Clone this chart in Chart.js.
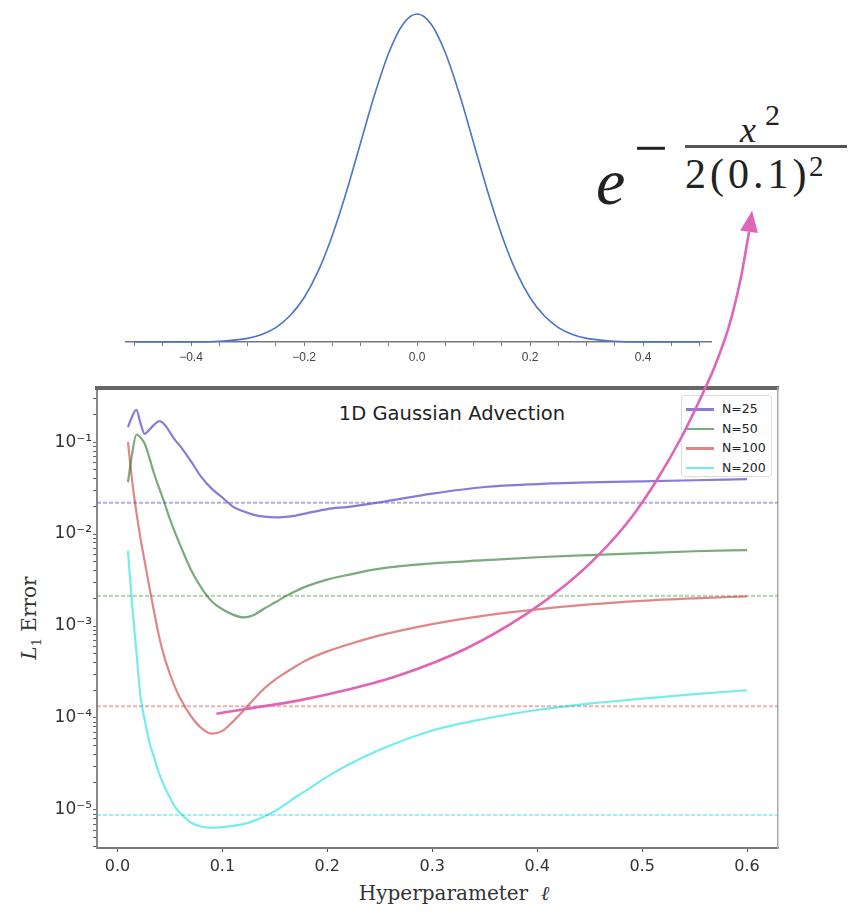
<!DOCTYPE html>
<html><head><meta charset="utf-8">
<script src="https://cdn.jsdelivr.net/npm/chart.js@4.4.1/dist/chart.umd.min.js"></script>
<style>
html,body{margin:0;padding:0;background:#fff;}
#wrap{position:relative;width:867px;height:914px;overflow:hidden;background:#fff;}
canvas{position:absolute;left:0;top:0;}
#top{z-index:1}
#legend{z-index:2}
#main{z-index:3}
.t{position:absolute;white-space:nowrap;line-height:1;color:#222;}
.f{font-family:"Liberation Serif","DejaVu Serif",serif;}
#legend{position:absolute;left:681px;top:395px;width:91px;height:82px;box-sizing:border-box;border:1px solid #ddd;border-radius:3px;background:#fff;}
.li{position:absolute;left:0;width:100%;height:19px;}
.ls{position:absolute;left:4px;top:9px;width:28px;height:2.5px;}
.lt{position:absolute;left:40px;top:2px;font:12.5px "DejaVu Sans",sans-serif;color:#222;}
</style></head><body>
<div id="wrap">
<canvas id="top" width="867" height="380"></canvas>
<div id="legend"></div>
<canvas id="main" width="867" height="914"></canvas>

<div class="t f" style="left:596px;top:149px;font-size:66px;font-style:italic;">e</div>
<div class="t f" style="left:634px;top:118px;font-size:60px;">−</div>
<div style="position:absolute;left:685px;top:145px;width:162px;height:3px;background:#555;"></div>
<div class="t f" style="left:740px;top:112px;font-size:36px;font-style:italic;">x</div>
<div class="t f" style="left:765px;top:100px;font-size:30px;">2</div>
<div class="t f" style="left:685px;top:153px;font-size:42px;letter-spacing:4px;">2(0.1)</div>
<div class="t f" style="left:809px;top:152px;font-size:29px;">2</div>

<div class="t" style="left:452px;top:402px;transform:translateX(-50%);font:19.5px 'DejaVu Sans',sans-serif;color:#222;">1D Gaussian Advection</div>
<div class="t" style="left:454px;top:881px;transform:translateX(-50%);font:20px 'DejaVu Serif',serif;color:#333;">Hyperparameter&nbsp; <i>ℓ</i></div>
<div class="t" style="left:30px;top:618px;transform:translate(-50%,-50%) rotate(-90deg);font:20px 'DejaVu Serif',serif;color:#333;"><i>L</i><sub style="font-size:13px;">1</sub> Error</div>
</div>
<script>
// ---------- top chart data ----------
const gaussX = [-0.5,-0.45,-0.4,-0.35,-0.3,-0.275,-0.25,-0.225,-0.2,-0.175,-0.15,-0.125,-0.1,-0.075,-0.05,-0.025,0,0.025,0.05,0.075,0.1,0.125,0.15,0.175,0.2,0.225,0.25,0.275,0.3,0.35,0.4,0.45,0.5];
const gaussY = [0,0,0.0003,0.0022,0.011,0.023,0.044,0.080,0.135,0.216,0.325,0.458,0.607,0.755,0.882,0.969,1,0.969,0.882,0.755,0.607,0.458,0.325,0.216,0.135,0.080,0.044,0.023,0.011,0.0022,0.0003,0,0];
const topTicks = [-0.5,-0.45,-0.4,-0.35,-0.3,-0.25,-0.2,-0.15,-0.1,-0.05,0,0.05,0.1,0.15,0.2,0.25,0.3,0.35,0.4,0.45,0.5];
const topXMin = -0.515, topXMax = 0.52;

// ---------- bottom chart data ----------
const ell = [0.01,0.014,0.018,0.022,0.026,0.03,0.035,0.04,0.045,0.05,0.055,0.06,0.07,0.08,0.09,0.1,0.11,0.12,0.13,0.14,0.15,0.16,0.17,0.18,0.2,0.22,0.25,0.3,0.35,0.4,0.45,0.5,0.55,0.6];
const err25 = [0.146,0.19,0.225,0.16,0.123,0.135,0.155,0.169,0.155,0.128,0.105,0.09,0.062,0.0416,0.031,0.025,0.0199,0.0177,0.0162,0.0155,0.0152,0.0154,0.0159,0.0168,0.0187,0.0198,0.0222,0.0275,0.0325,0.035,0.0365,0.0375,0.0385,0.0395];
const err50 = [0.0366,0.075,0.121,0.112,0.096,0.07,0.045,0.031,0.0215,0.0145,0.0103,0.0075,0.0041,0.0026,0.00185,0.00152,0.00133,0.00124,0.00132,0.00155,0.0018,0.0021,0.0024,0.0027,0.0032,0.0036,0.0042,0.0048,0.0052,0.0056,0.0059,0.0062,0.0065,0.0067];
const err100 = [0.1,0.038,0.0174,0.0089,0.005,0.00282,0.00141,0.00074,0.000447,0.000302,0.000214,0.000162,0.000105,0.0000776,0.0000676,0.0000724,0.0000912,0.00012,0.00016,0.00021,0.00026,0.00031,0.000365,0.000425,0.00053,0.00063,0.00079,0.00105,0.0013,0.00152,0.00172,0.00188,0.002,0.0021];
const err200 = [0.0066,0.0017,0.00053,0.00017,0.000095,0.000057,0.000037,0.0000243,0.0000178,0.0000136,0.0000107,0.0000092,0.0000073,0.0000066,0.0000064,0.0000065,0.0000067,0.000007,0.0000076,0.0000085,0.0000097,0.0000115,0.0000138,0.0000163,0.000023,0.000031,0.000045,0.000073,0.000098,0.000122,0.000143,0.000162,0.000182,0.0002];
const refLevels = [0.0219, 0.00213, 0.000134, 0.0000088];
const seriesNames = ['N=25','N=50','N=100','N=200'];
const arrowX = [0.0943,0.121,0.1733,0.221,0.2686,0.3324,0.3895,0.4276,0.459,0.4905,0.5133,0.538,0.561,0.5686,0.5829,0.5943,0.6019];
const arrowY = [0.0001112,0.0001245,0.0001553,0.0002047,0.000291,0.00057,0.001346,0.00282,0.006,0.01556,0.0375,0.1159,0.4065,0.641,1.837,6.28,19.45];
const arrowTipX = 0.6048, arrowTipY = 32.96;
const xTicks = [0,0.1,0.2,0.3,0.4,0.5,0.6];
const xMin = -0.0195, xMax = 0.6295;
const yMin = 3.85e-6, yMax = 0.388;

// ---------- styles ----------
const lineColors = ['rgba(106,90,205,0.8)','rgba(40,120,40,0.62)','rgba(205,60,60,0.62)','rgba(0,220,220,0.55)'];
const dashColors = ['rgba(106,90,205,0.5)','rgba(40,140,40,0.35)','rgba(205,60,60,0.4)','rgba(0,220,220,0.4)'];
const arrowColor = '#e064b8';

const sup = {'-':'⁻','0':'⁰','1':'¹','2':'²','3':'³','4':'⁴','5':'⁵','6':'⁶','7':'⁷','8':'⁸','9':'⁹'};

new Chart(document.getElementById('top'), {
  type:'line',
  data:{datasets:[{data:gaussX.map((x,i)=>({x:x,y:gaussY[i]})),borderColor:'#4a74c4',borderWidth:1.6,pointRadius:0,cubicInterpolationMode:'monotone',fill:false,clip:false}]},
  options:{responsive:false,animation:false,events:[],
    layout:{padding:{left:126,right:156,top:14,bottom:0}},
    plugins:{legend:{display:false},tooltip:{enabled:false}},
    scales:{
      x:{type:'linear',min:topXMin,max:topXMax,
        afterBuildTicks:s=>{s.ticks=topTicks.map(v=>({value:v}));},
        afterFit:s=>{s.height=38;s.paddingLeft=0;s.paddingRight=0;},
        grid:{display:true,drawOnChartArea:false,drawTicks:true,tickLength:4,color:'#777'},
        border:{display:true,color:'#777',width:1.5},
        ticks:{autoSkip:false,maxRotation:0,padding:4,color:'#444',font:{family:'Liberation Sans',size:12},
          callback:v=>{const k=v*5;return Math.abs(k-Math.round(k))<1e-6?(v<-1e-9?'−':'')+Math.abs(v).toFixed(1):'';}}},
      y:{display:false,min:0,max:1}
    }}
});

const datasets = [];
datasets.push({label:'arrow',data:arrowX.map((x,i)=>({x:x,y:arrowY[i]})),borderColor:arrowColor,borderWidth:2.6,
  pointRadius:0,clip:false,cubicInterpolationMode:'monotone',fill:false});
const errs=[err25,err50,err100,err200];
errs.forEach((arr,k)=>{
  datasets.push({label:seriesNames[k],data:ell.map((x,i)=>({x:x,y:arr[i]})),borderColor:lineColors[k],borderWidth:2.2,pointRadius:0,cubicInterpolationMode:'monotone',fill:false});
});
refLevels.forEach((v,k)=>{
  datasets.push({label:seriesNames[k]+' ref',data:[{x:xMin,y:v},{x:xMax,y:v}],borderColor:dashColors[k],borderWidth:2.2,borderDash:[4,2],pointRadius:0,fill:false});
});

const arrowHead = {id:'arrowHead',afterDatasetsDraw(chart){
  const ctx=chart.ctx, xs=chart.scales.x, ys=chart.scales.y;
  const meta=chart.getDatasetMeta(0); const base=meta.data[meta.data.length-1];
  const tx=xs.getPixelForValue(arrowTipX), ty=ys.getPixelForValue(arrowTipY);
  const bx=base.x, by=base.y; const dx=tx-bx, dy=ty-by; const len=Math.hypot(dx,dy);
  const nx=-dy/len, ny=dx/len, hw=9;
  ctx.save();ctx.beginPath();ctx.moveTo(tx,ty);ctx.lineTo(bx+nx*hw,by+ny*hw);ctx.lineTo(bx-nx*hw,by-ny*hw);ctx.closePath();
  ctx.fillStyle=arrowColor;ctx.fill();ctx.restore();
}};

new Chart(document.getElementById('main'), {
  type:'line',
  data:{datasets:datasets},
  plugins:[arrowHead],
  options:{responsive:false,animation:false,events:[],
    layout:{padding:{left:0,right:89,top:388,bottom:0}},
    plugins:{legend:{display:false},tooltip:{enabled:false}},
    scales:{
      x:{type:'linear',position:'bottom',min:xMin,max:xMax,
        afterBuildTicks:s=>{s.ticks=xTicks.map(v=>({value:v}));},
        afterFit:s=>{s.height=66;s.paddingLeft=0;s.paddingRight=0;},
        grid:{drawOnChartArea:false,drawTicks:true,tickLength:4,color:'#555'},
        border:{color:'#777',width:2},
        ticks:{autoSkip:false,maxRotation:0,padding:5,color:'#333',font:{family:'DejaVu Sans',size:16},callback:v=>v.toFixed(1)}},
      y:{type:'logarithmic',position:'left',min:yMin,max:yMax,
        afterBuildTicks:s=>{const t=[];for(let e=-6;e<=0;e++){for(let m=1;m<=9;m++){const v=parseFloat((m*Math.pow(10,e)).toPrecision(3));if(v>=yMin&&v<=yMax)t.push({value:v});}}s.ticks=t;},
        afterFit:s=>{s.width=97;s.paddingTop=0;s.paddingBottom=0;},
        grid:{drawOnChartArea:false,drawTicks:true,tickLength:4,color:'#666'},
        border:{color:'#888',width:2},
        ticks:{autoSkip:false,padding:1,color:'#333',font:{family:'DejaVu Sans',size:17},
          callback:v=>{const l=Math.log10(v);const r=Math.round(l);if(Math.abs(l-r)<1e-6){return '10'+String(r).split('').map(c=>sup[c]).join('');}return '';}}},
      x2:{type:'linear',position:'top',min:xMin,max:xMax,afterFit:s=>{s.height=0;},grid:{display:false,drawTicks:false},ticks:{display:false},border:{display:true,color:'#666',width:4}},
      y2:{type:'linear',position:'right',afterFit:s=>{s.width=0;},grid:{display:false,drawTicks:false},ticks:{display:false},border:{display:true,color:'#aaa',width:1.5}}
    }}
});

// legend built from series names and colours
const lg=document.getElementById('legend');
seriesNames.forEach((n,k)=>{
  const row=document.createElement('div');row.className='li';row.style.top=(3+k*19.5)+'px';
  const s=document.createElement('div');s.className='ls';s.style.background=lineColors[k];
  const t=document.createElement('div');t.className='lt';t.textContent=n;
  row.appendChild(s);row.appendChild(t);lg.appendChild(row);
});
</script>
</body></html>
